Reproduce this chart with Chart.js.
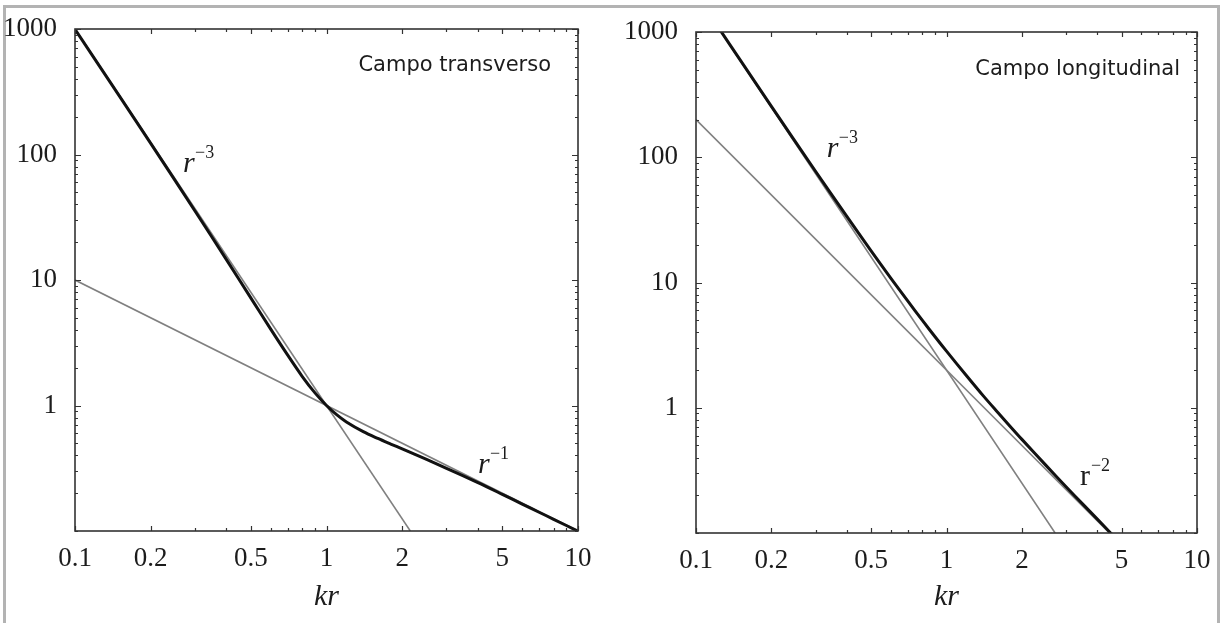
<!DOCTYPE html>
<html>
<head>
<meta charset="utf-8">
<script src="https://cdn.jsdelivr.net/npm/chart.js@4.4.1/dist/chart.umd.min.js"></script>
<style>
    html, body { margin: 0; padding: 0; background: #fff; overflow: hidden; width: 1220px; height: 623px; }
    #frame { position: absolute; left: 3px; top: 5px; width: 1211px; height: 650px; border: 3px solid #b3b3b3; }
    canvas { position: absolute; top: 0; }
    #leftChart { left: 0; }
    #rightChart { left: 610px; }
</style>
</head>
<body>
<div id="frame"></div>
<canvas id="leftChart" width="610" height="623"></canvas>
<canvas id="rightChart" width="610" height="623"></canvas>
<script>
// Axis ticks (both panels)
const xTickValues = [0.1, 0.2, 0.5, 1, 2, 5, 10];
const yTickValues = [1, 10, 100, 1000];
const xAxisTitle = 'kr';

// Campo transverso - total field
const transX = [0.1, 0.15, 0.2, 0.3, 0.4, 0.5, 0.6, 0.7, 0.8, 0.9, 1, 1.1, 1.2, 1.4, 1.6, 1.8, 2, 2.5, 3, 4, 5, 6, 7, 8, 10];
const transY = [995, 293, 122.6, 35.5, 14.54, 7.21, 4.06, 2.53, 1.71, 1.26, 1, 0.841, 0.74, 0.619, 0.546, 0.493, 0.451, 0.372, 0.316, 0.243, 0.196, 0.164, 0.141, 0.124, 0.0995];
// Campo transverso - asymptotes r^-3 and r^-1
const transNearX = [0.1, 2.154];
const transNearY = [1000, 0.1];
const transFarX = [0.1, 10];
const transFarY = [10, 0.1];

// Campo longitudinal - total field
const longX = [0.125, 0.15, 0.2, 0.3, 0.4, 0.5, 0.6, 0.7, 0.8, 0.9, 1, 1.2, 1.4, 1.6, 1.8, 2, 2.5, 3, 3.5, 4, 4.5, 4.6];
const longY = [1032, 599, 255, 77.3, 33.7, 17.9, 10.8, 7.12, 5.0, 3.69, 2.83, 1.81, 1.25, 0.921, 0.706, 0.559, 0.345, 0.234, 0.17, 0.129, 0.101, 0.0967];
// Campo longitudinal - asymptotes r^-3 and r^-2
const longNearX = [0.126, 2.714];
const longNearY = [1000, 0.1];
const longFarX = [0.1, 4.472];
const longFarY = [200, 0.1];

const serif = "'Liberation Serif', 'Times New Roman', serif";
const ink = '#1c1c1c';

function points(xs, ys) {
    return xs.map((x, i) => ({ x: x, y: ys[i] }));
}

// frame, inward ticks, panel title and power-law labels
const decorations = {
    id: 'decorations',
    afterDatasetsDraw(chart, args, opts) {
        const { ctx, chartArea: a, scales: { x, y } } = chart;
        ctx.save();
        ctx.strokeStyle = '#333';
        ctx.lineWidth = 1.2;

        // minor + major ticks, pointing inward on all four sides
        ctx.beginPath();
        [0.1, 1].forEach(d => {
            for (let m = 1; m <= 10; m++) {
                const v = m * d;
                const px = Math.round(x.getPixelForValue(v)) + 0.5;
                const len = xTickValues.includes(+v.toFixed(3)) ? 5 : 3;
                ctx.moveTo(px, a.bottom); ctx.lineTo(px, a.bottom - len);
                ctx.moveTo(px, a.top); ctx.lineTo(px, a.top + len);
            }
        });
        [0.1, 1, 10, 100].forEach(d => {
            for (let m = 1; m <= 10; m++) {
                const v = m * d;
                const py = Math.round(y.getPixelForValue(v)) + 0.5;
                const len = yTickValues.includes(+v.toFixed(3)) ? 6 : 3;
                ctx.moveTo(a.left, py); ctx.lineTo(a.left + len, py);
                ctx.moveTo(a.right, py); ctx.lineTo(a.right - len, py);
            }
        });
        ctx.stroke();

        ctx.lineWidth = 1.6;
        ctx.strokeRect(a.left, a.top, a.right - a.left, a.bottom - a.top);

        // panel title
        ctx.fillStyle = ink;
        ctx.font = "21px 'DejaVu Sans', Verdana, sans-serif";
        ctx.textAlign = 'right';
        ctx.textBaseline = 'alphabetic';
        ctx.fillText(opts.title, a.right - opts.titleGap, a.top + opts.titleDrop);

        // r^n labels
        ctx.textAlign = 'left';
        opts.labels.forEach(l => {
            const px = x.getPixelForValue(l.x);
            const py = y.getPixelForValue(l.y);
            ctx.font = (l.italic ? 'italic ' : '') + '30px ' + serif;
            ctx.fillText('r', px, py);
            ctx.font = '18px ' + serif;
            ctx.fillText(l.exp, px + (l.italic ? 12 : 11), py - 14);
        });
        ctx.restore();
    }
};

function makeChart(canvasId, series, opts) {
    const ctx = document.getElementById(canvasId);
    return new Chart(ctx, {
        type: 'line',
        data: {
            datasets: [
                {
                    data: series.total,
                    borderColor: '#111',
                    borderWidth: 3,
                    tension: 0.3
                },
                {
                    data: series.near,
                    borderColor: '#808080',
                    borderWidth: 1.6
                },
                {
                    data: series.far,
                    borderColor: '#808080',
                    borderWidth: 1.6
                }
            ]
        },
        options: {
            responsive: false,
            animation: false,
            parsing: false,
            elements: { point: { radius: 0 } },
            layout: { padding: opts.padding },
            plugins: {
                legend: { display: false },
                tooltip: { enabled: false },
                decorations: opts.decorations
            },
            scales: {
                x: {
                    type: 'logarithmic',
                    min: 0.1,
                    max: 10,
                    grid: { display: false },
                    border: { display: false },
                    afterBuildTicks: s => { s.ticks = xTickValues.map(v => ({ value: v })); },
                    afterFit: s => { s.height = opts.xHeight; },
                    ticks: {
                        font: { family: serif, size: 27 },
                        color: ink,
                        padding: 4,
                        maxRotation: 0,
                        autoSkip: false,
                        callback: v => String(v)
                    },
                    title: {
                        display: true,
                        text: xAxisTitle,
                        color: ink,
                        font: { family: serif, size: 30, style: 'italic' },
                        padding: { top: 0, bottom: 8 }
                    }
                },
                y: {
                    type: 'logarithmic',
                    min: 0.1,
                    max: 1000,
                    grid: { display: false },
                    border: { display: false },
                    afterBuildTicks: s => { s.ticks = yTickValues.map(v => ({ value: v })); },
                    afterFit: s => { s.width = opts.yWidth; },
                    ticks: {
                        font: { family: serif, size: 27 },
                        color: ink,
                        padding: 10,
                        autoSkip: false,
                        callback: v => String(v)
                    }
                }
            }
        },
        plugins: [decorations]
    });
}

makeChart('leftChart', {
    total: points(transX, transY),
    near: points(transNearX, transNearY),
    far: points(transFarX, transFarY)
}, {
    padding: { left: 0, right: 32, top: 29, bottom: 0 },
    xHeight: 92,
    yWidth: 75,
    decorations: {
        title: 'Campo transverso',
        titleGap: 27,
        titleDrop: 42,
        labels: [
            { x: 0.269, y: 72.5, exp: '\u22123', italic: true },
            { x: 4.0, y: 0.29, exp: '\u22121', italic: true }
        ]
    }
});

makeChart('rightChart', {
    total: points(longX, longY),
    near: points(longNearX, longNearY),
    far: points(longFarX, longFarY)
}, {
    padding: { left: 0, right: 23, top: 32, bottom: 0 },
    xHeight: 90,
    yWidth: 86,
    decorations: {
        title: 'Campo longitudinal',
        titleGap: 17,
        titleDrop: 43,
        labels: [
            { x: 0.333, y: 100.5, exp: '\u22123', italic: true },
            { x: 3.41, y: 0.2416, exp: '\u22122', italic: false }
        ]
    }
});
</script>
</body>
</html>
